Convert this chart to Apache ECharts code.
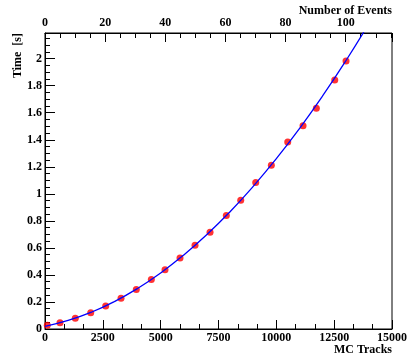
<!DOCTYPE html>
<html>
<head>
<meta charset="utf-8">
<script src="https://cdn.jsdelivr.net/npm/echarts@6/dist/echarts.min.js"></script>
<style>
  html, body { margin: 0; padding: 0; background: #fff; }
  #chart { width: 414px; height: 357px; }
</style>
</head>
<body>
<div id="chart"></div>
<script>
// measured points (MC tracks vs time)
const tracks = [99, 648, 1310, 1976, 2624, 3286, 3947, 4596, 5188, 5836, 6485,
  7134, 7838, 8461, 9110, 9784, 10493, 11154, 11730, 12525, 13013];
const times = [0.027, 0.047, 0.079, 0.12, 0.17, 0.227, 0.293, 0.367, 0.438, 0.525, 0.619,
  0.715, 0.84, 0.953, 1.084, 1.212, 1.384, 1.503, 1.633, 1.843, 1.983];

// fit curve
const fitTracks = [0, 1000, 2000, 3000, 4000, 5000, 6000, 7000, 8000, 9000, 10000,
  11000, 12000, 13000, 14000];
const fitTimes = [0.02, 0.063, 0.124, 0.203, 0.3, 0.415, 0.548, 0.699, 0.868, 1.055, 1.26,
  1.483, 1.724, 1.983, 2.26];

const font = 'Liberation Serif';
const labelStyle = { color: '#000', fontFamily: font, fontWeight: 'bold', fontSize: 12 };
const plain = v => String(v);

const chart = echarts.init(document.getElementById('chart'));

const option = {
  animation: false,
  backgroundColor: '#fff',
  grid: {
    left: 45, right: 22, top: 33, bottom: 28,
    show: true, borderColor: '#000', borderWidth: 1, backgroundColor: 'transparent'
  },
  xAxis: [
    {
      type: 'value',
      position: 'bottom',
      min: 0, max: 15000, interval: 2500,
      name: 'MC Tracks',
      nameLocation: 'end',
      nameGap: 0,
      nameTextStyle: { ...labelStyle, align: 'right', verticalAlign: 'top', padding: [15, 0, 0, 0] },
      axisLine: { lineStyle: { color: '#000', width: 1 } },
      axisTick: { inside: true, length: 9, lineStyle: { color: '#000' } },
      minorTick: { show: true, splitNumber: 3, length: 5, lineStyle: { color: '#000' } },
      axisLabel: { ...labelStyle, margin: 3, showMaxLabel: true, formatter: plain },
      splitLine: { show: false }
    },
    {
      type: 'value',
      position: 'top',
      min: 0, max: 115.4, interval: 20,
      name: 'Number of Events',
      nameLocation: 'end',
      nameGap: 0,
      nameTextStyle: { ...labelStyle, align: 'right', verticalAlign: 'bottom', padding: [0, 0, 16, 0] },
      axisLine: { lineStyle: { color: '#000', width: 1 } },
      axisTick: { inside: true, length: 9, lineStyle: { color: '#000' } },
      minorTick: { show: true, splitNumber: 4, length: 5, lineStyle: { color: '#000' } },
      axisLabel: { ...labelStyle, margin: 4, showMaxLabel: false, formatter: plain },
      splitLine: { show: false }
    }
  ],
  yAxis: {
    type: 'value',
    min: 0, max: 2.19, interval: 0.2,
    axisLine: { show: true, lineStyle: { color: '#000', width: 1 } },
    axisTick: { show: true, inside: true, length: 10, lineStyle: { color: '#000' } },
    minorTick: { show: true, splitNumber: 4, length: 5, lineStyle: { color: '#000' } },
    axisLabel: { ...labelStyle, margin: 3, showMaxLabel: false, formatter: v => String(Math.round(v * 10) / 10) },
    splitLine: { show: false }
  },
  graphic: [
    {
      type: 'text',
      x: 18, y: 33,
      rotation: Math.PI / 2,
      style: {
        text: 'Time  [s]',
        fill: '#000',
        font: 'bold 12px "Liberation Serif"',
        align: 'right',
        verticalAlign: 'middle'
      }
    }
  ],
  series: [
    {
      type: 'scatter',
      xAxisIndex: 0,
      symbol: 'circle',
      symbolSize: 7,
      itemStyle: { color: '#ff0000' },
      data: tracks.map((t, i) => [t, times[i]]),
      z: 2
    },
    {
      type: 'line',
      xAxisIndex: 0,
      smooth: true,
      showSymbol: false,
      clip: true,
      lineStyle: { color: '#0000ff', width: 1.3 },
      data: fitTracks.map((t, i) => [t, fitTimes[i]]),
      z: 3
    }
  ]
};

chart.setOption(option);
</script>
</body>
</html>
